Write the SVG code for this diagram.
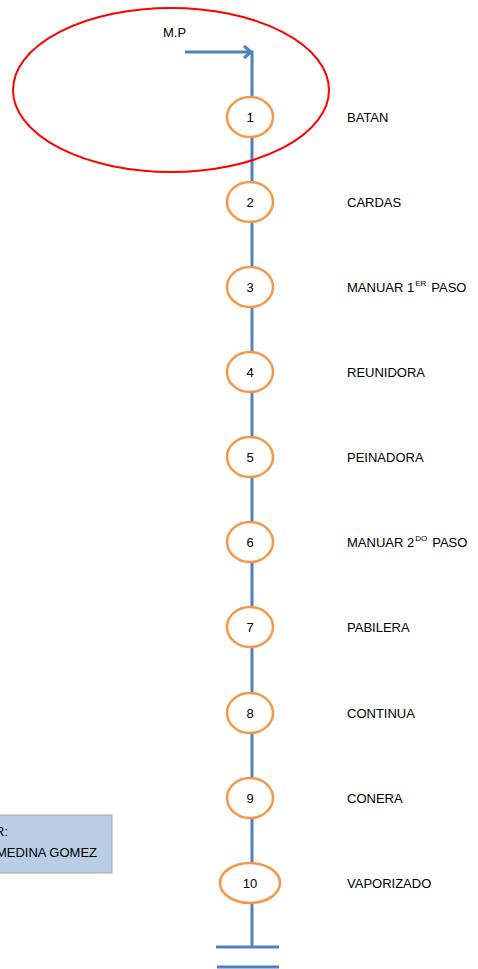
<svg xmlns="http://www.w3.org/2000/svg" width="478" height="969" viewBox="0 0 478 969">
<style>
.t{font-family:"Liberation Sans",Arial,sans-serif;font-size:13px;fill:#000}
.n{text-anchor:middle}
.c{fill:#fff;stroke:#f79646;stroke-width:2.5}
.l{stroke:#4f81bd;stroke-width:3;fill:none}
.s{font-size:8px}
</style>
<rect width="478" height="969" fill="#fff"/>
<g id="connectors">
<path class="l" d="M185 52H252V97"/>
<path class="l" d="M244 46L251 52L244 58" stroke-width="2.5"/>
<path class="l" d="M252 137V182M252 222V267M252 307V352M252 392V437M252 477V522M252 562V607M252 647V693M252 733V778M252 818V863M252 903V947"/>
<path class="l" d="M216 947H279M217 967H279"/>
</g>
<g id="scope"><ellipse cx="171" cy="90" rx="158" ry="82" fill="none" stroke="#ff0000" stroke-width="2"/></g>
<g id="mp"><text class="t" x="163" y="36.5">M.P</text></g>
<g id="n1"><ellipse class="c" cx="250" cy="117" rx="23" ry="20"/><text class="t n" x="250" y="122">1</text><text class="t" x="347" y="122">BATAN</text></g>
<g id="n2"><ellipse class="c" cx="250" cy="202" rx="23" ry="20"/><text class="t n" x="250" y="207">2</text><text class="t" x="347" y="207">CARDAS</text></g>
<g id="n3"><ellipse class="c" cx="250" cy="287" rx="23" ry="20"/><text class="t n" x="250" y="292">3</text><text class="t" x="347" y="292">MANUAR 1<tspan class="s" dx="1" dy="-6">ER</tspan><tspan dx="5" dy="6">PASO</tspan></text></g>
<g id="n4"><ellipse class="c" cx="250" cy="372" rx="23" ry="20"/><text class="t n" x="250" y="377">4</text><text class="t" x="347" y="377">REUNIDORA</text></g>
<g id="n5"><ellipse class="c" cx="250" cy="457" rx="23" ry="20"/><text class="t n" x="250" y="462">5</text><text class="t" x="347" y="462">PEINADORA</text></g>
<g id="n6"><ellipse class="c" cx="250" cy="542" rx="23" ry="20"/><text class="t n" x="250" y="547">6</text><text class="t" x="347" y="547">MANUAR 2<tspan class="s" dx="1" dy="-6">DO</tspan><tspan dx="5" dy="6">PASO</tspan></text></g>
<g id="n7"><ellipse class="c" cx="250" cy="627" rx="23" ry="20"/><text class="t n" x="250" y="632">7</text><text class="t" x="347" y="632">PABILERA</text></g>
<g id="n8"><ellipse class="c" cx="250" cy="713" rx="23" ry="20"/><text class="t n" x="250" y="718">8</text><text class="t" x="347" y="718">CONTINUA</text></g>
<g id="n9"><ellipse class="c" cx="250" cy="798" rx="23" ry="20"/><text class="t n" x="250" y="803">9</text><text class="t" x="347" y="803">CONERA</text></g>
<g id="n10"><ellipse class="c" cx="250" cy="883" rx="30" ry="20"/><text class="t n" x="250" y="888">10</text><text class="t" x="347" y="888">VAPORIZADO</text></g>
<g id="author"><rect x="-10" y="815" width="122" height="58" fill="#b9cde5" stroke="#a6a6a6" stroke-width="1"/><text class="t" x="8" y="836" text-anchor="end">R:</text><text class="t" x="97" y="857" text-anchor="end">MEDINA GOMEZ</text></g>
</svg>
